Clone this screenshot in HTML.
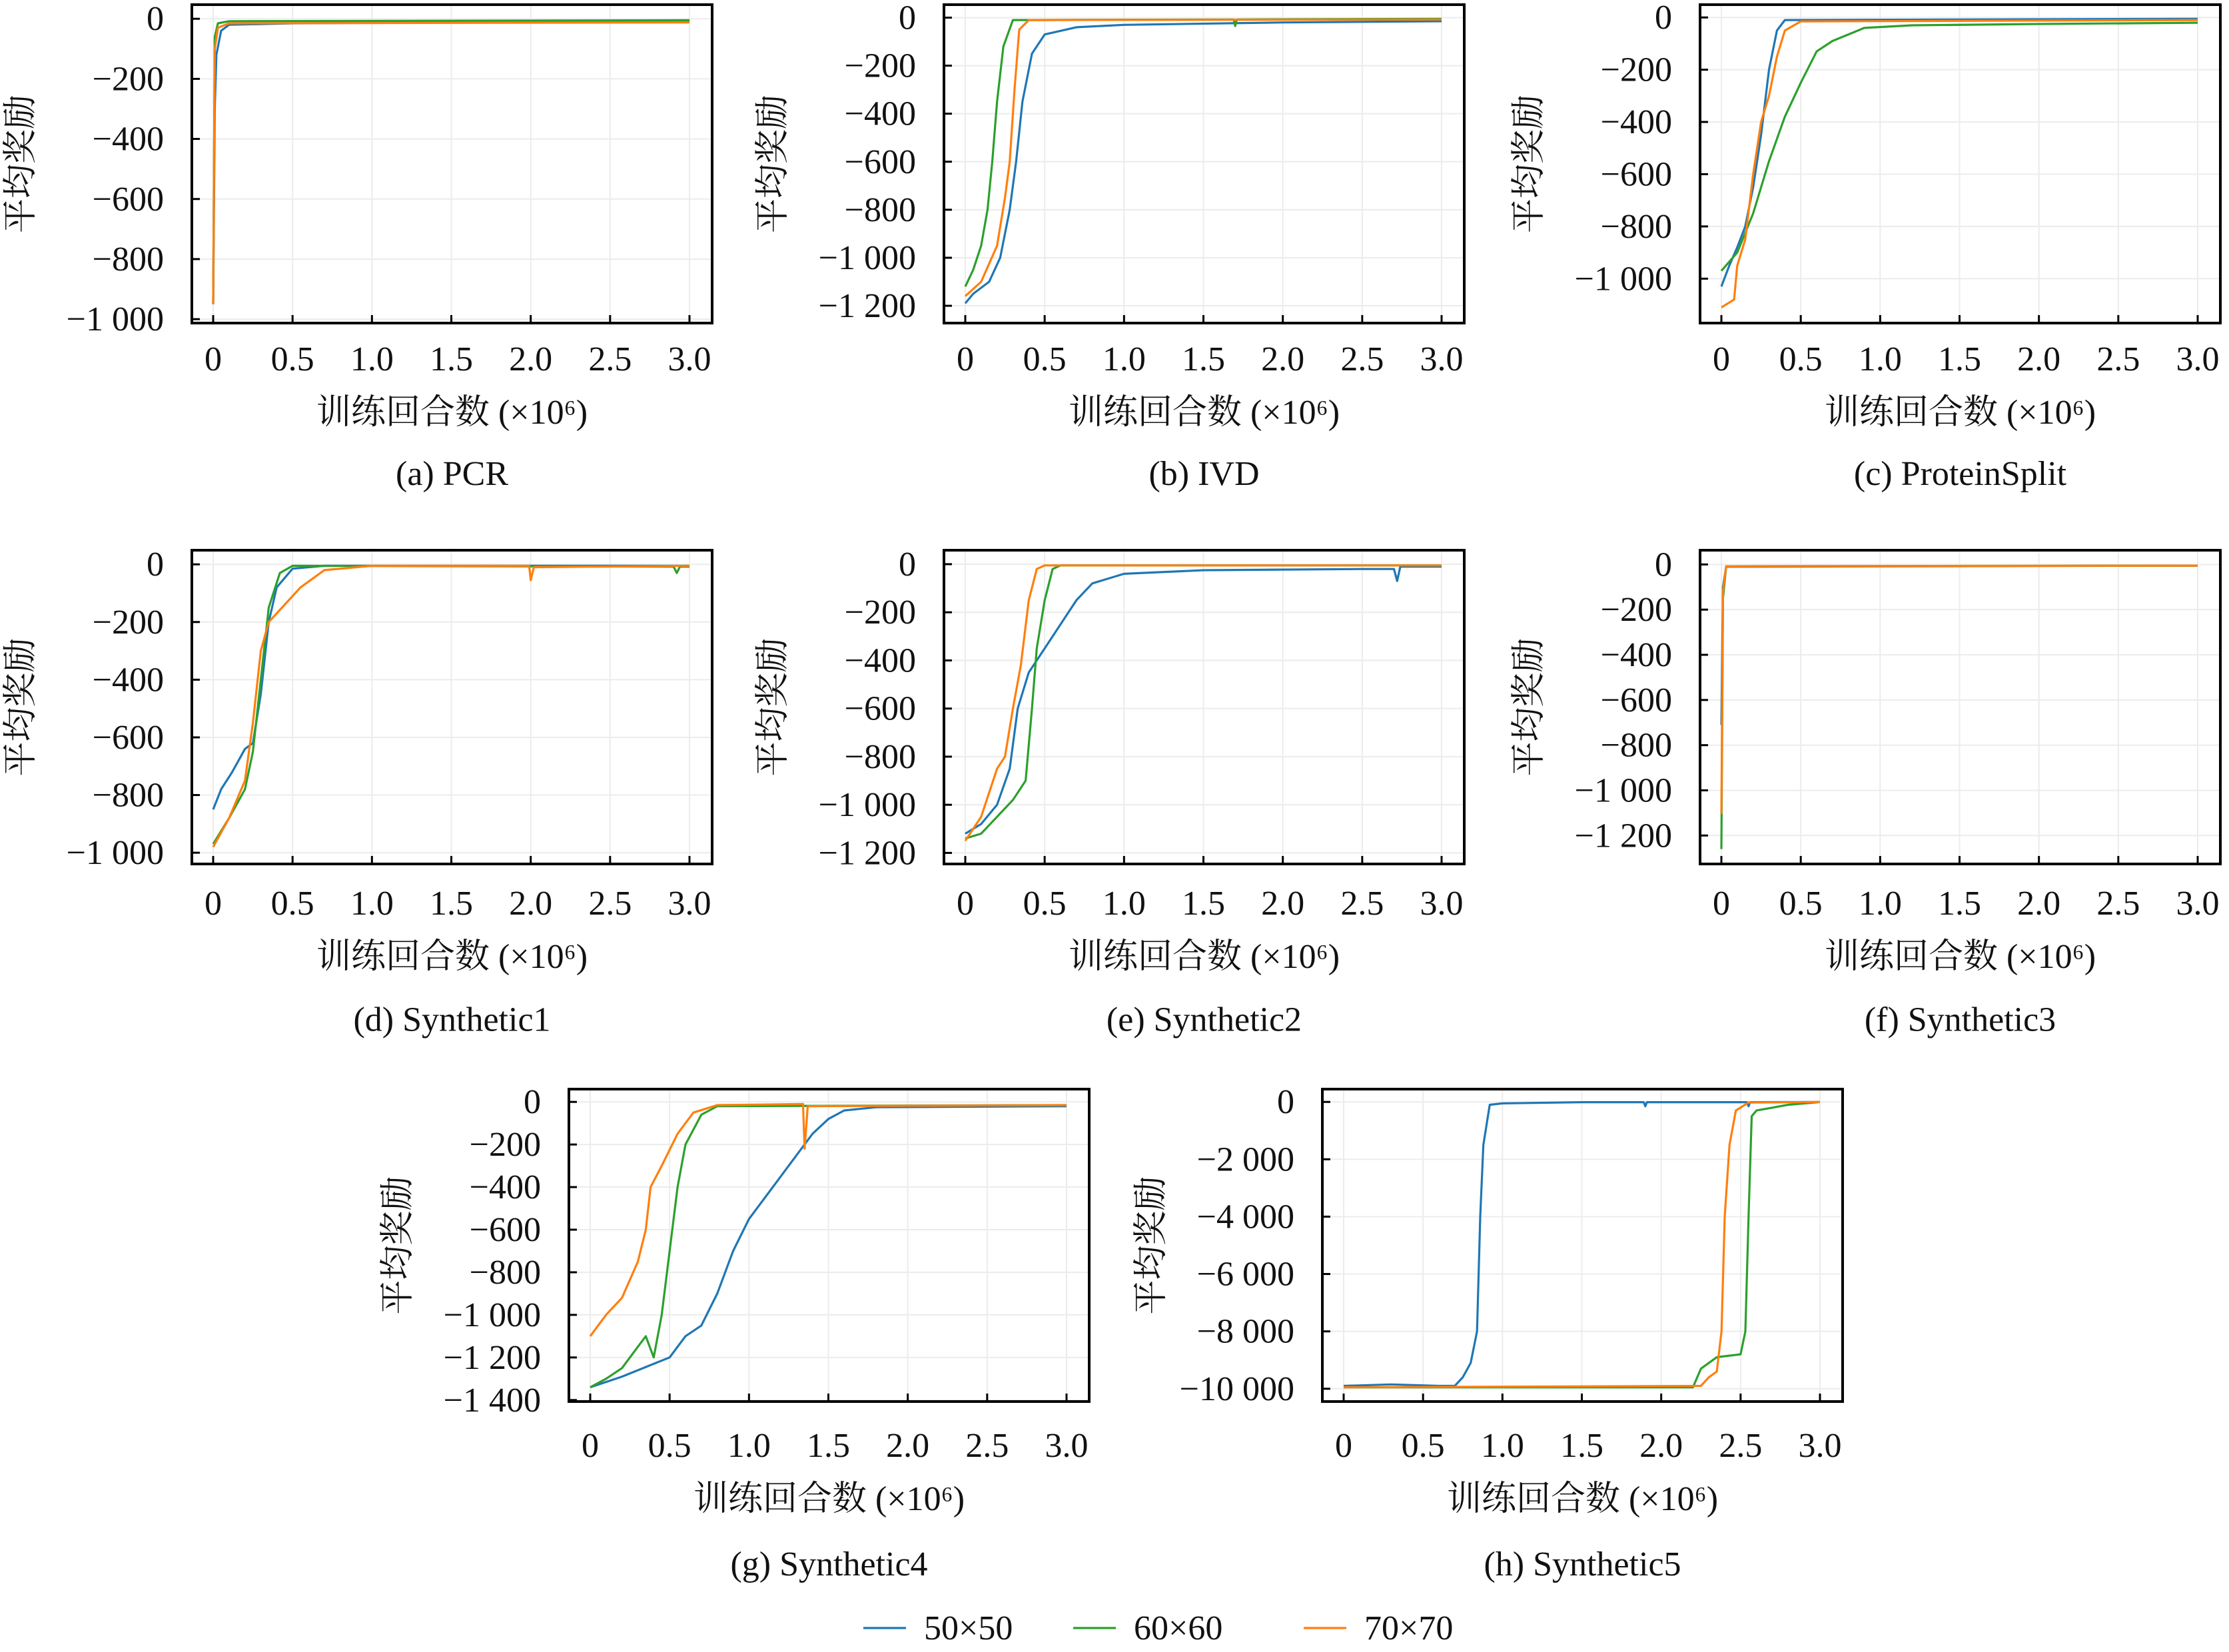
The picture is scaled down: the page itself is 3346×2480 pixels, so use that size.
<!DOCTYPE html>
<html><head><meta charset="utf-8"><style>
html,body{margin:0;padding:0;background:#fff;}
svg{display:block;}
text{font-family:"Liberation Serif","Noto Serif CJK SC","Noto Sans CJK SC",serif;fill:#111;}
</style></head><body>
<svg id="fig" width="3346" height="2480" viewBox="0 0 3346 2480" xmlns="http://www.w3.org/2000/svg"></svg>
<script>
// ---- data (x in 10^6 episodes, y average reward) ----
const xTicks = [0,0.5,1.0,1.5,2.0,2.5,3.0];
const xTickLabels = ["0","0.5","1.0","1.5","2.0","2.5","3.0"];
const seriesNames = ["50×50","60×60","70×70"];

const pcr50 = [[0,-950],[0.01,-300],[0.02,-120],[0.05,-40],[0.1,-20],[0.5,-15],[1.5,-12],[3,-10]];
const pcr60 = [[0,-950],[0.01,-60],[0.03,-15],[0.1,-8],[3,-5]];
const pcr70 = [[0,-950],[0.01,-100],[0.03,-30],[0.1,-15],[3,-12]];

const ivd50 = [[0,-1190],[0.05,-1150],[0.15,-1100],[0.22,-1000],[0.28,-800],[0.32,-600],[0.36,-350],[0.42,-150],[0.5,-70],[0.7,-40],[1.0,-30],[2,-20],[3,-15]];
const ivd60 = [[0,-1120],[0.05,-1050],[0.1,-950],[0.14,-800],[0.17,-600],[0.2,-350],[0.24,-120],[0.3,-10],[1.69,-8],[1.7,-35],[1.71,-8],[3,-5]];
const ivd70 = [[0,-1160],[0.1,-1100],[0.2,-950],[0.25,-750],[0.28,-600],[0.31,-300],[0.34,-50],[0.4,-10],[3,-8]];

const ps50 = [[0,-1030],[0.05,-950],[0.1,-880],[0.15,-800],[0.2,-650],[0.25,-450],[0.3,-200],[0.35,-50],[0.4,-10],[3,-5]];
const ps60 = [[0,-970],[0.1,-900],[0.2,-750],[0.3,-550],[0.4,-380],[0.5,-250],[0.6,-130],[0.7,-90],[0.9,-40],[1.2,-30],[2,-25],[3,-20]];
const ps70 = [[0,-1110],[0.08,-1080],[0.1,-950],[0.15,-850],[0.2,-600],[0.25,-400],[0.3,-300],[0.35,-150],[0.4,-50],[0.5,-15],[3,-10]];

const s1_50 = [[0,-850],[0.05,-780],[0.12,-720],[0.2,-640],[0.25,-620],[0.3,-450],[0.35,-200],[0.4,-80],[0.5,-15],[0.7,-5],[3,-5]];
const s1_60 = [[0,-970],[0.1,-880],[0.2,-780],[0.25,-650],[0.3,-400],[0.35,-150],[0.42,-30],[0.5,-5],[2.9,-8],[2.92,-30],[2.94,-8],[3,-8]];
const s1_70 = [[0,-980],[0.1,-880],[0.2,-750],[0.25,-550],[0.3,-300],[0.35,-200],[0.45,-140],[0.55,-80],[0.7,-20],[1.0,-5],[1.99,-5],[2.0,-55],[2.02,-10],[3,-5]];

const s2_50 = [[0,-1120],[0.1,-1080],[0.2,-1000],[0.28,-850],[0.33,-600],[0.4,-450],[0.5,-350],[0.6,-250],[0.7,-150],[0.8,-80],[1.0,-40],[1.5,-25],[2.5,-20],[2.7,-20],[2.72,-70],[2.74,-10],[3,-10]];
const s2_60 = [[0,-1140],[0.1,-1120],[0.2,-1050],[0.3,-980],[0.38,-900],[0.42,-600],[0.45,-350],[0.5,-150],[0.55,-20],[0.6,-5],[3,-5]];
const s2_70 = [[0,-1150],[0.1,-1050],[0.2,-850],[0.25,-800],[0.3,-600],[0.35,-420],[0.4,-150],[0.45,-20],[0.5,-5],[3,-5]];

const s3_50 = [[0,-710],[0.01,-100],[0.03,-10],[3,-5]];
const s3_60 = [[0,-1260],[0.01,-150],[0.03,-8],[3,-5]];
const s3_70 = [[0,-1105],[0.01,-120],[0.03,-8],[3,-5]];

const s4_50 = [[0,-1340],[0.2,-1290],[0.4,-1230],[0.5,-1200],[0.6,-1100],[0.7,-1050],[0.8,-900],[0.9,-700],[1.0,-550],[1.1,-450],[1.2,-350],[1.3,-250],[1.4,-150],[1.5,-80],[1.6,-40],[1.8,-25],[3,-20]];
const s4_60 = [[0,-1340],[0.1,-1300],[0.2,-1250],[0.3,-1150],[0.35,-1100],[0.4,-1200],[0.45,-1000],[0.5,-700],[0.55,-400],[0.6,-200],[0.7,-60],[0.8,-20],[3,-15]];
const s4_70 = [[0,-1100],[0.1,-1000],[0.2,-920],[0.3,-750],[0.35,-600],[0.38,-400],[0.45,-300],[0.55,-150],[0.65,-50],[0.8,-15],[1.34,-10],[1.35,-220],[1.37,-20],[3,-15]];

const s5_50 = [[0,-9900],[0.3,-9850],[0.6,-9900],[0.7,-9900],[0.75,-9600],[0.8,-9100],[0.84,-8000],[0.86,-4000],[0.88,-1500],[0.92,-100],[1.0,-50],[1.5,-10],[1.89,-10],[1.9,-150],[1.91,-10],[2.54,-10],[2.55,-150],[2.56,-10],[3,-5]];
const s5_60 = [[0,-9950],[2.2,-9950],[2.25,-9300],[2.35,-8900],[2.5,-8800],[2.53,-8000],[2.55,-4000],[2.57,-500],[2.6,-300],[2.8,-100],[3,-5]];
const s5_70 = [[0,-9950],[2.25,-9900],[2.3,-9600],[2.35,-9400],[2.38,-8000],[2.4,-4000],[2.43,-1500],[2.47,-300],[2.55,-20],[3,-5]];

const ticksA = [0,-200,-400,-600,-800,-1000];
const ticksB = [0,-200,-400,-600,-800,-1000,-1200];
const ticksG = [0,-200,-400,-600,-800,-1000,-1200,-1400];
const ticksH = [0,-2000,-4000,-6000,-8000,-10000];

const panels = [
 {id:"pcr", cap:"(a) PCR", L:288, T:7, B:485, off:0, lo:-1013, hi:47, ticks:ticksA, s:[pcr50,pcr60,pcr70]},
 {id:"ivd", cap:"(b) IVD", L:1417, T:7, B:485, off:0, lo:-1272, hi:54, ticks:ticksB, s:[ivd50,ivd60,ivd70]},
 {id:"proteinsplit", cap:"(c) ProteinSplit", L:2552, T:7, B:485, off:0, lo:-1170, hi:49, ticks:ticksA, s:[ps50,ps60,ps70]},
 {id:"synthetic1", cap:"(d) Synthetic1", L:288, T:826, B:1297, off:5, lo:-1039, hi:49, ticks:ticksA, s:[s1_50,s1_60,s1_70]},
 {id:"synthetic2", cap:"(e) Synthetic2", L:1417, T:826, B:1297, off:5, lo:-1246, hi:58, ticks:ticksB, s:[s2_50,s2_60,s2_70]},
 {id:"synthetic3", cap:"(f) Synthetic3", L:2552, T:826, B:1297, off:5, lo:-1326, hi:63, ticks:ticksB, s:[s3_50,s3_60,s3_70]},
 {id:"synthetic4", cap:"(g) Synthetic4", L:854, T:1635, B:2104, off:12, lo:-1407, hi:60, ticks:ticksG, s:[s4_50,s4_60,s4_70]},
 {id:"synthetic5", cap:"(h) Synthetic5", L:1985, T:1635, B:2104, off:12, lo:-10446, hi:446, ticks:ticksH, s:[s5_50,s5_60,s5_70]}
];
const colors = ["#1f77b4","#2ca02c","#ff7f0e"];
const W = 781;
const NS = "http://www.w3.org/2000/svg";
const fig = document.getElementById("fig");

function mk(tag, attrs, parent){
  const e = document.createElementNS(NS, tag);
  for (const k in attrs) e.setAttribute(k, attrs[k]);
  (parent||fig).appendChild(e);
  return e;
}
function fmt(v){
  if (v===0) return "0";
  const a = Math.abs(v);
  let s = a>=1000 ? Math.floor(a/1000)+" "+String(a%1000).padStart(3,"0") : String(a);
  return "\u2212"+s;
}

panels.forEach(p=>{
  const g = mk("g",{});
  
  
  const R = p.L+W;
  const xs = v => p.L+32 + v/3*(W-66);
  const ys = v => p.T + (p.hi - v)/(p.hi-p.lo)*(p.B-p.T);
  xTicks.forEach(t=>{
    const l = mk("line",{x1:xs(t),x2:xs(t),y1:p.T,y2:p.B,stroke:"#ececec","stroke-width":2},g);
    
    
  });
  p.ticks.forEach(t=>{
    const l = mk("line",{x1:p.L,x2:R,y1:ys(t),y2:ys(t),stroke:"#ececec","stroke-width":2},g);
    
    
  });
  p.s.forEach((d,i)=>{
    const pts = d.map(q=>xs(q[0]).toFixed(1)+","+ys(q[1]).toFixed(1)).join(" ");
    const pl = mk("polyline",{points:pts,fill:"none",stroke:colors[i],"stroke-width":3.2,"stroke-linejoin":"round"},g);
    
    
  });
  const fr = mk("rect",{x:p.L,y:p.T,width:W,height:p.B-p.T,fill:"none",stroke:"#000","stroke-width":4},g);
  
  
  xTicks.forEach((t,i)=>{
    const tk = mk("line",{x1:xs(t),x2:xs(t),y1:p.B,y2:p.B-12,stroke:"#000","stroke-width":3},g);
    
    
    const tx = mk("text",{x:xs(t),y:p.B+71+p.off,"text-anchor":"middle","font-size":52},g);
    tx.textContent = xTickLabels[i];
    
    
  });
  p.ticks.forEach(t=>{
    const tk = mk("line",{x1:p.L,x2:p.L+12,y1:ys(t),y2:ys(t),stroke:"#000","stroke-width":3},g);
    
    
    const tx = mk("text",{x:p.L-42,y:ys(t)+17,"text-anchor":"end","font-size":52},g);
    tx.textContent = fmt(t);
    
    
  });
  const cx = p.L+W/2;
  const xl = mk("text",{x:cx,y:p.B+151+p.off,"text-anchor":"middle","font-size":52},g);
  xl.textContent = "训练回合数 (×10⁶)";
  
  
  const cy = (p.T+p.B)/2;
  const yx = p.L-240;
  const yl = mk("text",{x:yx,y:cy,"text-anchor":"middle","font-size":52,transform:"rotate(-90 "+yx+" "+cy+")"},g);
  yl.textContent = "平均奖励";
  
  
  const cp = mk("text",{x:cx,y:p.B+243+p.off*1.5,"text-anchor":"middle","font-size":52},g);
  cp.textContent = p.cap;
  
  
});

const legX = [1296,1611,1957];
const lg = mk("g",{});


seriesNames.forEach((n,i)=>{
  const ln = mk("line",{x1:legX[i],x2:legX[i]+64,y1:2444,y2:2444,stroke:colors[i],"stroke-width":3.2},lg);
  
  
  const t = mk("text",{x:legX[i]+91,y:2461,"font-size":52},lg);
  t.textContent = n;
  
  
});
</script>
</body></html>
